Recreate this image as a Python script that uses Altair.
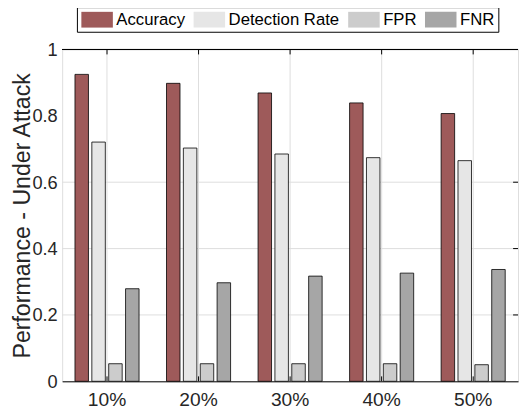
import altair as alt
import pandas as pd

pcts = ["10%", "20%", "30%", "40%", "50%"]
metrics = ["Accuracy", "Detection Rate", "FPR", "FNR"]
accuracy = [0.925, 0.898, 0.869, 0.839, 0.807]
detection = [0.721, 0.703, 0.685, 0.674, 0.665]
fpr = [0.053, 0.053, 0.053, 0.053, 0.050]
fnr = [0.279, 0.297, 0.317, 0.326, 0.337]
colors = ["#9e5a5a", "#e6e6e6", "#cccccc", "#a6a6a6"]
y_ticks = [0, 0.2, 0.4, 0.6, 0.8, 1]
grid_vals = [0.2, 0.4, 0.6]

W, H = 463, 337
FONT = "Liberation Sans"

rows = []
for name, vals in zip(metrics, [accuracy, detection, fpr, fnr]):
    for p, v in zip(pcts, vals):
        rows.append({"pct": p, "metric": name, "value": v})
df = pd.DataFrame(rows)
df_pct = pd.DataFrame({"pct": pcts})
df_grid = pd.DataFrame({"g": grid_vals})

xscale = alt.Scale(domain=pcts, paddingInner=0.3, paddingOuter=0.14)
yscale = alt.Scale(domain=[0, 1])

hgrid = alt.Chart(df_grid).mark_rule(color="#dddddd", strokeWidth=1).encode(
    y=alt.Y("g:Q", scale=yscale),
    x=alt.value(0),
    x2=alt.value(W),
)

bars = alt.Chart(df).mark_bar(stroke="black", strokeWidth=0.8).encode(
    x=alt.X("pct:N", scale=xscale, sort=pcts,
            axis=alt.Axis(title=None, labelAngle=0, ticks=False, domain=True,
                          domainColor="black", domainWidth=1, grid=True,
                          gridColor="#dddddd", labelFontSize=19.5, labelPadding=9.5,
                          labelColor="#262626", labelFont=FONT)),
    xOffset=alt.XOffset("metric:N", sort=metrics,
                        scale=alt.Scale(domain=metrics, paddingInner=0.2, paddingOuter=0)),
    y=alt.Y("value:Q", scale=yscale,
            axis=alt.Axis(title="Performance - Under Attack", values=y_ticks, format="~g",
                          domain=False, ticks=False, grid=False, labelFontSize=18.5,
                          labelPadding=5, labelColor="#262626", labelFont=FONT,
                          titleFontSize=23.5, titleFont=FONT, titleFontWeight="normal",
                          titleColor="#262626", titleX=-28)),
    color=alt.Color("metric:N", sort=metrics,
                    scale=alt.Scale(domain=metrics, range=colors),
                    legend=alt.Legend(
                        title=None, orient="none", legendX=15, legendY=-43,
                        direction="horizontal", fillColor="white", strokeColor="black",
                        padding=4, symbolType="M-1,-1H3V1H-1Z", symbolSize=256,
                        symbolStrokeWidth=0, labelOffset=19, columnPadding=8,
                        labelFontSize=17, labelFont=FONT, labelColor="black")),
)

top_line = alt.Chart(df_pct).mark_rule(color="black", strokeWidth=1).encode(
    x=alt.value(0), x2=alt.value(W), y=alt.value(0)
)
top_ticks = alt.Chart(df_pct).mark_rule(color="black", strokeWidth=1).encode(
    x=alt.X("pct:N", scale=xscale, sort=pcts), y=alt.value(0), y2=alt.value(5)
)
bot_ticks = alt.Chart(df_pct).mark_rule(color="black", strokeWidth=1).encode(
    x=alt.X("pct:N", scale=xscale, sort=pcts), y=alt.value(H - 5), y2=alt.value(H)
)
right_ticks = alt.Chart(df_grid).mark_rule(color="black", strokeWidth=1).encode(
    y=alt.Y("g:Q", scale=yscale), x=alt.value(W - 5), x2=alt.value(W)
)

chart = alt.layer(hgrid, bars, top_line, top_ticks, bot_ticks, right_ticks).properties(
    width=W, height=H,
    autosize=alt.AutoSizeParams(type="none"),
    padding={"left": 55, "top": 39, "right": 2, "bottom": 26},
).configure_view(stroke=None).configure(font=FONT)

chart.save("out.html", embed_options={"renderer": "svg", "actions": False})
